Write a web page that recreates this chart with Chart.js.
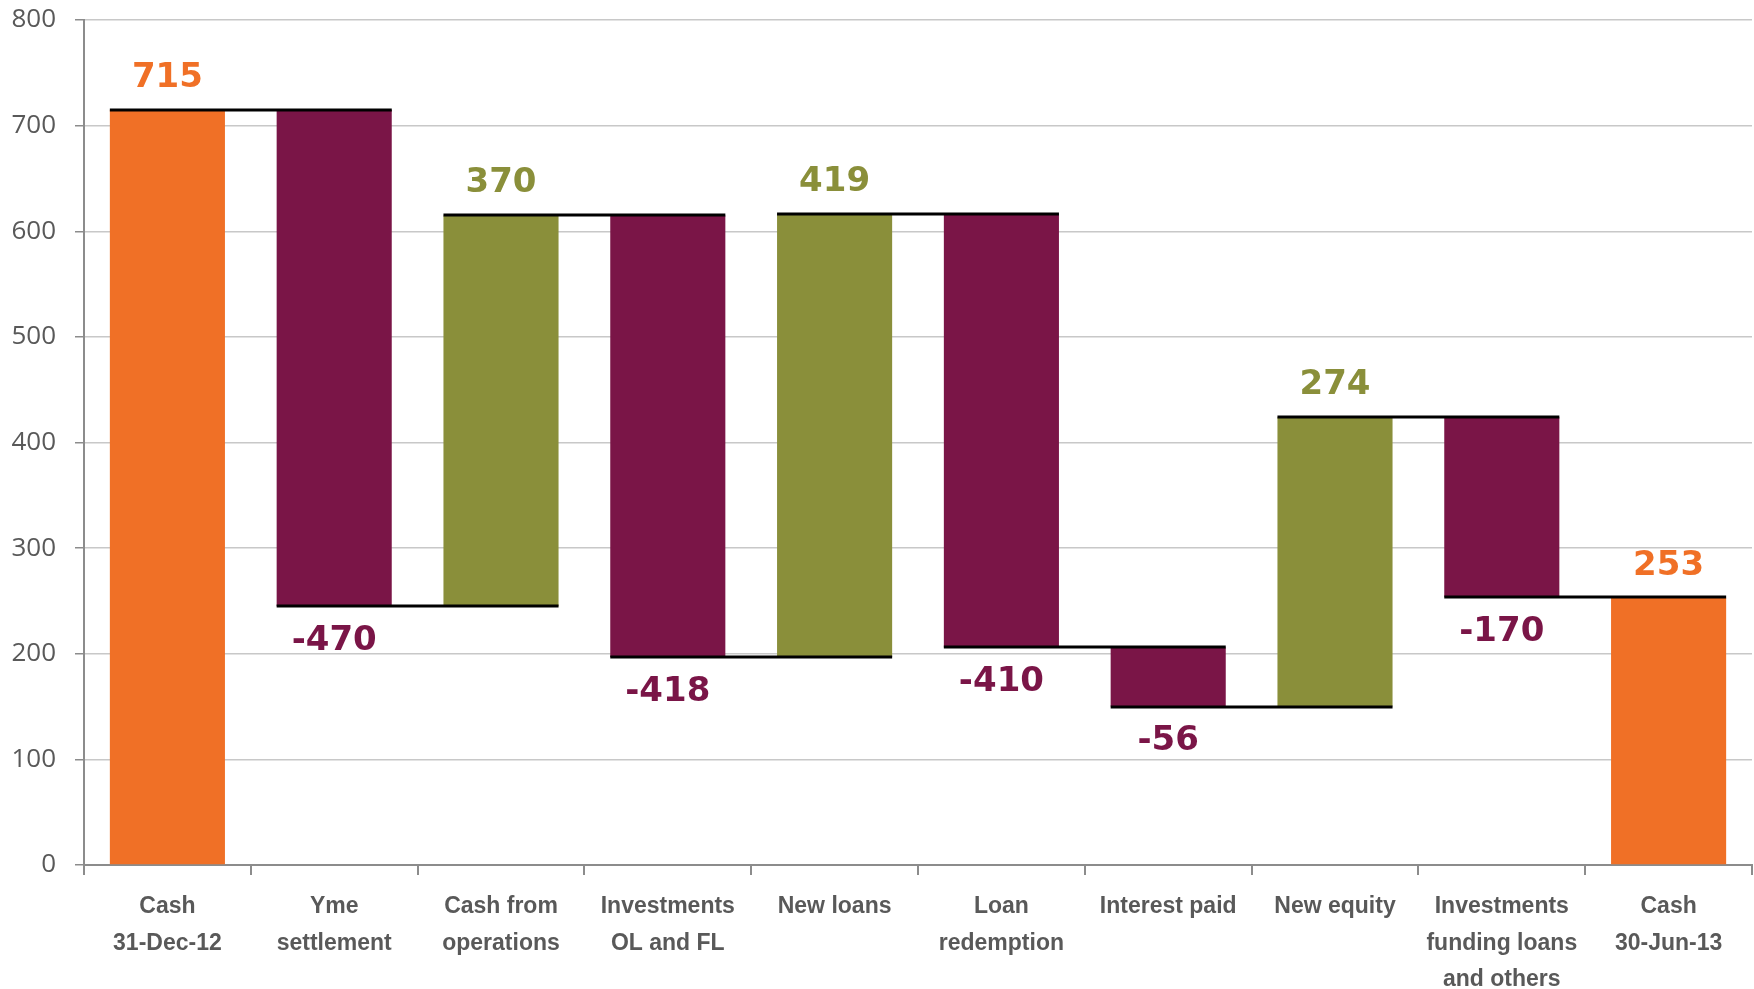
<!DOCTYPE html>
<html>
<head>
<meta charset="utf-8">
<script src="https://cdn.jsdelivr.net/npm/chart.js@4/dist/chart.umd.min.js"></script>
<style>
html,body{margin:0;padding:0;background:#fff;}
canvas{display:block;}
</style>
</head>
<body>
<canvas id="c" width="1754" height="989"></canvas>
<script>
// ---- data ----
const categories = [
  ['Cash', '31-Dec-12'],
  ['Yme', 'settlement'],
  ['Cash from', 'operations'],
  ['Investments', 'OL and FL'],
  ['New loans'],
  ['Loan', 'redemption'],
  ['Interest paid'],
  ['New equity'],
  ['Investments', 'funding loans', 'and others'],
  ['Cash', '30-Jun-13']
];
const amounts = [715, -470, 370, -418, 419, -410, -56, 274, -170, 253];
const kinds = ['total', 'change', 'change', 'change', 'change', 'change', 'change', 'change', 'change', 'total'];
const yTicks = [0, 100, 200, 300, 400, 500, 600, 700, 800];

// ---- colours ----
const ORANGE = '#F07026';
const MAROON = '#7A1547';
const OLIVE = '#8A8F3A';

// build floating bars from the amounts
const ranges = [];
const levels = [];
let running = 0;
amounts.forEach((v, i) => {
  if (kinds[i] === 'total') {
    ranges.push([0, v]);
    running = v;
  } else {
    ranges.push([running, running + v]);
    running += v;
  }
  levels.push(running);
});
const colorFor = i => kinds[i] === 'total' ? ORANGE : (amounts[i] >= 0 ? OLIVE : MAROON);
const barColors = amounts.map((v, i) => colorFor(i));

const waterfallPlugin = {
  id: 'waterfall',
  afterDatasetsDraw(chart) {
    const ctx = chart.ctx;
    const meta = chart.getDatasetMeta(0);
    const y = chart.scales.y;
    // connectors
    ctx.save();
    ctx.strokeStyle = '#000';
    ctx.lineWidth = 3;
    for (let i = 0; i < meta.data.length - 1; i++) {
      const a = meta.data[i], b = meta.data[i + 1];
      const py = Math.round(y.getPixelForValue(levels[i]));
      ctx.beginPath();
      ctx.moveTo(a.x - a.width / 2, py);
      ctx.lineTo(b.x + b.width / 2, py);
      ctx.stroke();
    }
    // value labels
    ctx.font = "bold 34px 'DejaVu Sans'";
    ctx.textAlign = 'center';
    ctx.textBaseline = 'middle';
    meta.data.forEach((bar, i) => {
      const v = amounts[i];
      const [lo, hi] = ranges[i];
      ctx.fillStyle = colorFor(i);
      let py;
      if (v >= 0) py = y.getPixelForValue(Math.max(lo, hi)) - 32;
      else py = y.getPixelForValue(Math.min(lo, hi)) + 35;
      ctx.fillText(String(v), bar.x, py);
    });
    ctx.restore();
  }
};

new Chart(document.getElementById('c'), {
  type: 'bar',
  data: {
    labels: categories,
    datasets: [{
      data: ranges,
      backgroundColor: barColors,
      borderWidth: 0,
      barPercentage: 0.69,
      categoryPercentage: 1.0
    }]
  },
  options: {
    responsive: false,
    animation: false,
    devicePixelRatio: 1,
    layout: { padding: { top: 20, right: 2, left: 0, bottom: 0 } },
    plugins: { legend: { display: false }, tooltip: { enabled: false } },
    scales: {
      x: {
        offset: true,
        grid: { display: true, drawOnChartArea: false, drawTicks: true, tickLength: 10, tickColor: '#8c8c8c', lineWidth: 2, offset: true },
        border: { display: true, color: '#8c8c8c', width: 2 },
        ticks: {
          color: '#595959',
          font: { family: "'Liberation Sans', Arial, sans-serif", size: 23, weight: 'bold', lineHeight: 1.6 },
          padding: 13,
          maxRotation: 0,
          autoSkip: false
        },
        afterFit(scale) { scale.height = 124; scale.paddingLeft = 0; scale.paddingRight = 0; }
      },
      y: {
        min: 0,
        max: 800,
        afterBuildTicks(scale) { scale.ticks = yTicks.map(v => ({ value: v })); },
        grid: { color: '#c8c8c8', lineWidth: 1.5, tickLength: 9, tickColor: '#8c8c8c' },
        border: { display: true, color: '#8c8c8c', width: 2 },
        ticks: {
          color: '#595959',
          font: { family: "'Open Sans', sans-serif", size: 26 },
          padding: 19
        },
        afterFit(scale) { scale.width = 84; scale.paddingTop = 0; scale.paddingBottom = 0; }
      }
    }
  },
  plugins: [waterfallPlugin]
});
</script>
</body>
</html>
